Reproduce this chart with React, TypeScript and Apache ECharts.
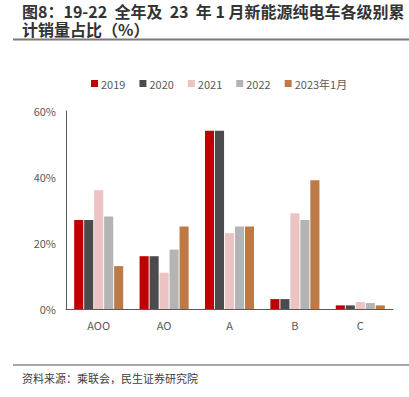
import React, { useEffect, useRef } from "react";
import * as echarts from "echarts";

const categories = ["AOO", "AO", "A", "B", "C"];
const seriesNames = ["2019", "2020", "2021", "2022", "2023年1月"];
const s2019 = [27, 16, 54, 3, 1.1];
const s2020 = [27, 16, 54, 3, 1.1];
const s2021 = [36, 11, 23, 29, 2.1];
const s2022 = [28, 18, 25, 27, 1.8];
const s2023 = [13, 25, 25, 39, 1.1];
const yTicks = [0, 20, 40, 60];
const colors = ["#C00000", "#4B4B4D", "#EBC3C3", "#B4B4B4", "#BD7A47"];
const titleLines = ["图8：19-22  全年及  23  年 1 月新能源纯电车各级别累", "计销量占比（%）"];

export default function App() {
  const ref = useRef<HTMLDivElement>(null);
  useEffect(() => {
    document.body.style.margin = "0";
    const chart = echarts.init(ref.current!, null, { renderer: "svg" });
    const data = [s2019, s2020, s2021, s2022, s2023];
    chart.setOption({
      animation: false,
      textStyle: { fontFamily: "'Noto Sans CJK SC', 'Noto Sans', sans-serif" },
      graphic: [
        ...titleLines.map((t, i) => ({
          type: "text",
          left: 22,
          top: 3 + i * 18,
          style: {
            text: t,
            font: "bold 16px 'Noto Sans CJK SC', sans-serif",
            fill: "#333333",
          },
        })),
        {
          type: "line",
          shape: { x1: 13, y1: 39.5, x2: 409, y2: 39.5 },
          style: { stroke: "#7A7A7A", lineWidth: 2 },
        },
        {
          type: "line",
          shape: { x1: 13, y1: 365, x2: 409, y2: 365 },
          style: { stroke: "#8A8A8A", lineWidth: 1.5 },
        },
        {
          type: "text",
          left: 22,
          top: 372,
          style: {
            text: "资料来源：乘联会，民生证券研究院",
            font: "11px 'Noto Sans CJK SC', sans-serif",
            fill: "#404040",
          },
        },
      ],
      legend: {
        top: 73,
        left: 86,
        itemWidth: 7,
        itemHeight: 7,
        itemGap: 14,
        icon: "rect",
        textStyle: { color: "#595959", fontSize: 11, padding: [0, 0, 0, -2] },
        data: seriesNames,
      },
      grid: { left: 66, right: 16, top: 111, bottom: 88, containLabel: false },
      xAxis: {
        type: "category",
        data: categories,
        axisLine: { lineStyle: { color: "#595959", width: 1 } },
        axisTick: { show: false },
        axisLabel: { color: "#595959", fontSize: 11, margin: 10 },
      },
      yAxis: {
        type: "value",
        min: yTicks[0],
        max: yTicks[yTicks.length - 1],
        interval: 20,
        axisLine: { show: true, lineStyle: { color: "#595959", width: 1 } },
        axisTick: { show: false },
        splitLine: { show: false },
        axisLabel: { color: "#595959", fontSize: 11, margin: 10, formatter: "{value}%" },
      },
      series: seriesNames.map((name, i) => ({
        name,
        type: "bar",
        data: data[i],
        barGap: "10%",
        barCategoryGap: "25%",
        itemStyle: { color: colors[i] },
      })),
    });
    return () => chart.dispose();
  }, []);
  return <div ref={ref} style={{ width: 409, height: 397 }} />;
}
